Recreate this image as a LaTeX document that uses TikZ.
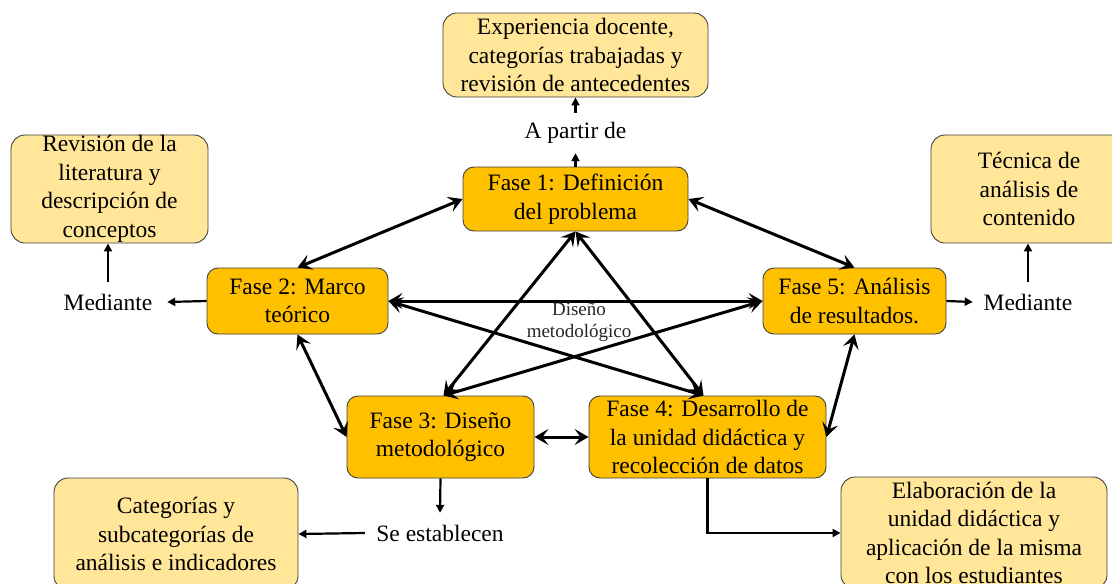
\documentclass[tikz,border=0pt]{standalone}
\usepackage{fontspec}
\setmainfont{Liberation Serif}
\usetikzlibrary{arrows.meta}
\definecolor{faseC}{HTML}{FFC000}
\definecolor{infoC}{HTML}{FFE699}
\definecolor{edgeC}{HTML}{404040}
\begin{document}
\begin{tikzpicture}[x=1pt,y=-1pt,
  every node/.style={font=\fontsize{23.5}{28.5}\selectfont, align=center, inner sep=0pt},
  fase/.style={draw=edgeC, line width=0.9pt, fill=faseC, rounded corners=11pt},
  info/.style={draw=edgeC, line width=0.9pt, fill=infoC, rounded corners=14pt},
  big/.style={line width=3pt, {Stealth[length=14pt,width=16pt,inset=6pt]}-{Stealth[length=14pt,width=16pt,inset=6pt]}},
  small/.style={line width=2.2pt, -{Triangle[length=8pt,width=8pt]}}]
\useasboundingbox (0,0) rectangle (1112,584);

% phase boxes
\node[fase, minimum width=225pt, minimum height=64pt] (f1) at (575.5,199) {Fase 1: Definición\\del problema};
\node[fase, minimum width=181pt, minimum height=66pt] (f2) at (297.5,301) {Fase 2: Marco\\teórico};
\node[fase, minimum width=183pt, minimum height=66pt] (f5) at (854.5,301) {Fase 5: Análisis\\de resultados.};
\node[fase, minimum width=187pt, minimum height=82pt] (f3) at (440.5,437) {Fase 3: Diseño\\metodológico};
\node[fase, minimum width=237pt, minimum height=82pt] (f4) at (707.5,437) {Fase 4: Desarrollo de\\la unidad didáctica y\\recolección de datos};

% info boxes
\node[info, minimum width=265pt, minimum height=84pt] (top) at (575.5,55) {Experiencia docente,\\categorías trabajadas y\\revisión de antecedentes};
\node[info, minimum width=197pt, minimum height=108pt] (rev) at (109.5,189) {Revisión de la\\literatura y\\descripción de\\conceptos};
\node[info, minimum width=196pt, minimum height=108pt] (tec) at (1029,189) {Técnica de\\análisis de\\contenido};
\node[info, minimum width=244pt, minimum height=112pt] (cat) at (176,534) {Categorías y\\subcategorías de\\análisis e indicadores};
\node[info, minimum width=266pt, minimum height=112pt] (elab) at (974,533) {Elaboración de la\\unidad didáctica y\\aplicación de la misma\\con los estudiantes};

% text labels
\node[minimum height=40pt] (apartir) at (575.5,133) {A partir de};
\node[minimum width=118pt, minimum height=40pt] (medL) at (108,302) {Mediante};
\node[minimum width=110pt, minimum height=40pt] (medR) at (1028,302) {Mediante};
\node[minimum width=150pt, minimum height=40pt] (seest) at (440,533) {Se establecen};

% small arrows
\draw[small] (f1.north) -- (apartir.south);
\draw[small] (apartir.north) -- (top.south);
\draw[small] (f2.west) -- (medL.east);
\draw[small] (medL.north) -- (medL.north |- rev.south);
\draw[small] (f5.east) -- (medR.west);
\draw[small] (medR.north) -- (medR.north |- tec.south);
\draw[small] (f3.south) -- (seest.north);
\draw[small] (seest.west) -- (cat.east);
\draw[small] (f4.south) |- (elab.west);

% big double arrows
\draw[big] (f1.west) -- (f2.north);
\draw[big] (f1.east) -- (f5.north);
\draw[big] (f2.east) -- (f5.west);
\draw[big] (f2.south) -- (f3.west);
\draw[big] (f3.east) -- (f4.west);
\draw[big] (f5.south) -- (f4.east);
\draw[big] (f1.south) -- ([xshift=3pt]f3.north);
\draw[big] (f1.south) -- ([xshift=-4pt]f4.north);
\draw[big] (f2.east) -- ([xshift=-4pt]f4.north);
\draw[big] (f5.west) -- ([xshift=3pt]f3.north);

\node[font=\fontsize{19}{22}\selectfont, text=black!85] (dlab) at (579,322) {Diseño\\metodológico};
\end{tikzpicture}
\end{document}
